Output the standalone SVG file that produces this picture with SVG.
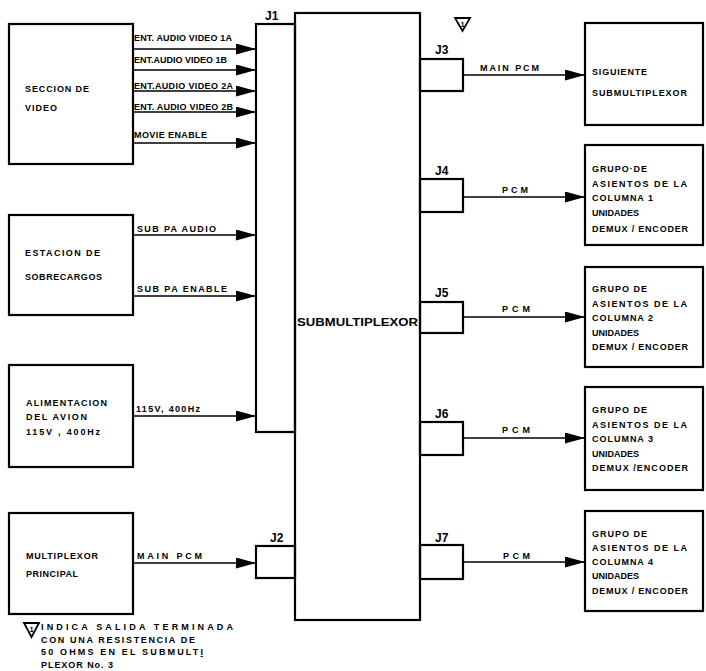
<svg xmlns="http://www.w3.org/2000/svg" width="706" height="671" viewBox="0 0 706 671">
<style>
  .box{fill:none;stroke:#000;stroke-width:2.2}
  .ln{fill:none;stroke:#000;stroke-width:1.7}
  text{font-family:"Liberation Sans",Arial,sans-serif;font-weight:bold;fill:#000}
  .t{font-size:9px}
  .j{font-size:12px}
  .big{font-size:11px}
</style>
<defs>
  <marker id="arr" markerUnits="userSpaceOnUse" viewBox="0 0 21 11" markerWidth="21" markerHeight="11" refX="20" refY="5.5" orient="auto">
    <path d="M0,0 L20,5.5 L0,11 z" fill="#000"/>
  </marker>
</defs>
<rect width="706" height="671" fill="#fff"/>

<g id="seccion-video">
  <rect class="box" x="9" y="24" width="124" height="140"/>
  <text class="t" x="25" y="92" textLength="64" lengthAdjust="spacing">SECCION  DE</text>
  <text class="t" x="25" y="111" textLength="32" lengthAdjust="spacing">VIDEO</text>
</g>
<g id="estacion-sobrecargos">
  <rect class="box" x="9" y="215" width="124" height="100"/>
  <text class="t" x="25" y="256" textLength="75" lengthAdjust="spacing">ESTACION  DE</text>
  <text class="t" x="25" y="280" textLength="77" lengthAdjust="spacing">SOBRECARGOS</text>
</g>
<g id="alimentacion">
  <rect class="box" x="9" y="365" width="124" height="102"/>
  <text class="t" x="26" y="406" textLength="81" lengthAdjust="spacing">ALIMENTACION</text>
  <text class="t" x="26" y="420" textLength="61" lengthAdjust="spacing">DEL  AVION</text>
  <text class="t" x="26" y="435" textLength="74" lengthAdjust="spacing">115V , 400Hz</text>
</g>
<g id="multiplexor-principal">
  <rect class="box" x="9" y="513" width="124" height="101"/>
  <text class="t" x="26" y="559" textLength="72" lengthAdjust="spacing">MULTIPLEXOR</text>
  <text class="t" x="26" y="577" textLength="52" lengthAdjust="spacing">PRINCIPAL</text>
</g>

<g id="J1">
  <rect class="box" x="256" y="24" width="39" height="408"/>
  <text class="j" x="265" y="20">J1</text>
</g>
<g id="J2">
  <rect class="box" x="256" y="546" width="39" height="32"/>
  <text class="j" x="270" y="542">J2</text>
</g>
<g id="submultiplexor">
  <rect class="box" x="295" y="13" width="125" height="607"/>
  <text class="big" x="297" y="326" textLength="121" lengthAdjust="spacingAndGlyphs" font-weight="normal">SUBMULTIPLEXOR</text>
</g>
<g id="J3">
  <rect class="box" x="420" y="59" width="43" height="32"/>
  <text class="j" x="435" y="54">J3</text>
</g>
<g id="J4">
  <rect class="box" x="420" y="179" width="43" height="33"/>
  <text class="j" x="435" y="175">J4</text>
</g>
<g id="J5">
  <rect class="box" x="420" y="302" width="43" height="31"/>
  <text class="j" x="435" y="297">J5</text>
</g>
<g id="J6">
  <rect class="box" x="420" y="422" width="43" height="33"/>
  <text class="j" x="435" y="418">J6</text>
</g>
<g id="J7">
  <rect class="box" x="420" y="545" width="43" height="34"/>
  <text class="j" x="435" y="542">J7</text>
</g>

<g id="siguiente-submultiplexor">
  <rect class="box" x="585" y="23" width="118" height="102"/>
  <text class="t" x="592" y="75" textLength="55" lengthAdjust="spacing">SIGUIENTE</text>
  <text class="t" x="592" y="96" textLength="95" lengthAdjust="spacing">SUBMULTIPLEXOR</text>
</g>
<g id="grupo-columna-1">
  <rect class="box" x="585" y="145" width="118" height="100"/>
  <text class="t" x="592" y="172" textLength="55" lengthAdjust="spacing">GRUPO·DE</text>
  <text class="t" x="592" y="187" textLength="95" lengthAdjust="spacing">ASIENTOS  DE  LA</text>
  <text class="t" x="592" y="201" textLength="61" lengthAdjust="spacing">COLUMNA   1</text>
  <text class="t" x="592" y="216" textLength="47" lengthAdjust="spacing">UNIDADES</text>
  <text class="t" x="592" y="232" textLength="96" lengthAdjust="spacing">DEMUX / ENCODER</text>
</g>
<g id="grupo-columna-2">
  <rect class="box" x="585" y="267" width="118" height="100"/>
  <text class="t" x="592" y="292" textLength="55" lengthAdjust="spacing">GRUPO  DE</text>
  <text class="t" x="592" y="307" textLength="95" lengthAdjust="spacing">ASIENTOS  DE  LA</text>
  <text class="t" x="592" y="321" textLength="61" lengthAdjust="spacing">COLUMNA  2</text>
  <text class="t" x="592" y="336" textLength="47" lengthAdjust="spacing">UNIDADES</text>
  <text class="t" x="592" y="350" textLength="96" lengthAdjust="spacing">DEMUX / ENCODER</text>
</g>
<g id="grupo-columna-3">
  <rect class="box" x="585" y="387" width="118" height="103"/>
  <text class="t" x="592" y="413" textLength="55" lengthAdjust="spacing">GRUPO  DE</text>
  <text class="t" x="592" y="428" textLength="95" lengthAdjust="spacing">ASIENTOS  DE  LA</text>
  <text class="t" x="592" y="442" textLength="61" lengthAdjust="spacing">COLUMNA  3</text>
  <text class="t" x="592" y="457" textLength="47" lengthAdjust="spacing">UNIDADES</text>
  <text class="t" x="592" y="471" textLength="96" lengthAdjust="spacing">DEMUX /ENCODER</text>
</g>
<g id="grupo-columna-4">
  <rect class="box" x="585" y="511" width="118" height="100"/>
  <text class="t" x="592" y="537" textLength="55" lengthAdjust="spacing">GRUPO  DE</text>
  <text class="t" x="592" y="551" textLength="95" lengthAdjust="spacing">ASIENTOS  DE  LA</text>
  <text class="t" x="592" y="565" textLength="61" lengthAdjust="spacing">COLUMNA  4</text>
  <text class="t" x="592" y="579" textLength="47" lengthAdjust="spacing">UNIDADES</text>
  <text class="t" x="592" y="594" textLength="96" lengthAdjust="spacing">DEMUX / ENCODER</text>
</g>

<g id="connectors">
  <line class="ln" x1="133" y1="49" x2="256" y2="49" marker-end="url(#arr)"/>
  <line class="ln" x1="133" y1="70" x2="256" y2="70" marker-end="url(#arr)"/>
  <line class="ln" x1="133" y1="91" x2="256" y2="91" marker-end="url(#arr)"/>
  <line class="ln" x1="133" y1="112" x2="256" y2="112" marker-end="url(#arr)"/>
  <line class="ln" x1="133" y1="143" x2="256" y2="143" marker-end="url(#arr)"/>
  <line class="ln" x1="133" y1="235" x2="256" y2="235" marker-end="url(#arr)"/>
  <line class="ln" x1="133" y1="296" x2="256" y2="296" marker-end="url(#arr)"/>
  <line class="ln" x1="133" y1="416" x2="256" y2="416" marker-end="url(#arr)"/>
  <line class="ln" x1="133" y1="563" x2="256" y2="563" marker-end="url(#arr)"/>
  <line class="ln" x1="463" y1="75" x2="585" y2="75" marker-end="url(#arr)"/>
  <line class="ln" x1="463" y1="197" x2="585" y2="197" marker-end="url(#arr)"/>
  <line class="ln" x1="463" y1="317" x2="585" y2="317" marker-end="url(#arr)"/>
  <line class="ln" x1="463" y1="438" x2="585" y2="438" marker-end="url(#arr)"/>
  <line class="ln" x1="463" y1="562" x2="585" y2="562" marker-end="url(#arr)"/>
  <text class="t" x="134" y="41" textLength="98" lengthAdjust="spacing">ENT. AUDIO VIDEO 1A</text>
  <text class="t" x="134" y="63" textLength="93" lengthAdjust="spacing">ENT.AUDIO VIDEO 1B</text>
  <text class="t" x="134" y="89" textLength="99" lengthAdjust="spacing">ENT.AUDIO VIDEO 2A</text>
  <text class="t" x="134" y="110" textLength="99" lengthAdjust="spacing">ENT. AUDIO VIDEO 2B</text>
  <text class="t" x="134" y="138" textLength="73" lengthAdjust="spacing">MOVIE  ENABLE</text>
  <text class="t" x="137" y="232" textLength="79" lengthAdjust="spacing">SUB  PA  AUDIO</text>
  <text class="t" x="137" y="292" textLength="90" lengthAdjust="spacing">SUB  PA  ENABLE</text>
  <text class="t" x="136" y="412" textLength="64" lengthAdjust="spacing">115V, 400Hz</text>
  <text class="t" x="137" y="559" textLength="65" lengthAdjust="spacing">MAIN  PCM</text>
  <text class="t" x="480" y="71" textLength="59" lengthAdjust="spacing">MAIN PCM</text>
  <text class="t" x="502" y="193" textLength="26" lengthAdjust="spacing">PCM</text>
  <text class="t" x="502" y="312" textLength="28" lengthAdjust="spacing">PCM</text>
  <text class="t" x="502" y="433" textLength="28" lengthAdjust="spacing">P C M</text>
  <text class="t" x="503" y="559" textLength="27" lengthAdjust="spacing">PCM</text>
</g>

<g id="marker-top">
  <polygon points="455,18 470,18 462.5,31" fill="none" stroke="#000" stroke-width="1.8"/>
  <text x="462.5" y="26.5" font-size="7.5" text-anchor="middle">1</text>
</g>
<g id="note">
  <polygon points="24,623 39,623 31.5,637" fill="none" stroke="#000" stroke-width="1.8"/>
  <text x="31.5" y="631.5" font-size="7.5" text-anchor="middle">1</text>
  <text class="t" x="41" y="630" textLength="192" lengthAdjust="spacing">INDICA  SALIDA  TERMINADA</text>
  <text class="t" x="41" y="643" textLength="154" lengthAdjust="spacing">CON UNA RESISTENCIA DE</text>
  <text class="t" x="41" y="655" textLength="162" lengthAdjust="spacing">50 OHMS  EN EL  SUBMULT<tspan text-decoration="underline">I</tspan></text>
  <text class="t" x="41" y="668" textLength="72" lengthAdjust="spacing">PLEXOR  No. 3</text>
</g>
</svg>
